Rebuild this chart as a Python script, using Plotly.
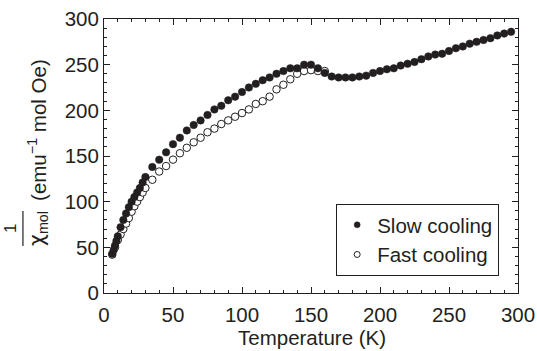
import plotly.graph_objects as go

# Inverse molar susceptibility vs temperature, two cooling protocols
slow_T = [6, 7, 8, 9, 10, 12, 14, 16, 18, 20, 22, 24, 26, 28, 30,
          35, 40, 45, 50, 55, 60, 65, 70, 75, 80, 85, 90, 95, 100,
          105, 110, 115, 120, 125, 130, 135, 140, 145, 150, 155, 160,
          165, 170, 175, 180, 185, 190, 195, 200, 205, 210, 215, 220,
          225, 230, 235, 240, 245, 250, 255, 260, 265, 270, 275, 280,
          285, 290, 295]
slow_inv_chi = [43, 47, 52, 57, 62, 72, 80, 87, 94, 100, 105, 110, 115, 121, 127,
                138, 146, 154, 163, 170, 178, 184, 189, 195, 201, 205, 211, 215, 220,
                225, 229, 233, 236, 240, 243, 246, 246, 250, 250, 246, 241,
                237, 236, 236, 236, 237, 238, 241, 243, 245, 246, 249, 251,
                253, 256, 259, 261, 262, 265, 268, 270, 273, 275, 277, 279,
                282, 284, 286]

fast_T = [6, 8, 10, 12, 14, 16, 18, 20, 22, 24, 26, 28, 30,
          35, 40, 45, 50, 55, 60, 65, 70, 75, 80, 85, 90, 95, 100,
          105, 110, 115, 120, 125, 130, 135, 140, 145, 150, 155, 160]
fast_inv_chi = [42, 50, 58, 64, 70, 76, 82, 89, 95, 100, 105, 110, 115,
                124, 133, 139, 146, 153, 159, 165, 170, 176, 180, 185, 189, 193, 197,
                201, 207, 210, 215, 223, 228, 234, 240, 243, 244, 243, 243]

x_ticks = [0, 50, 100, 150, 200, 250, 300]
y_ticks = [0, 50, 100, 150, 200, 250, 300]

INK = "#231f20"
FONT = "Liberation Sans, Arial, Helvetica, sans-serif"
FS = 20.5

fig = go.Figure()

fig.add_trace(go.Scatter(
    x=fast_T, y=fast_inv_chi, mode="markers", showlegend=False,
    marker=dict(symbol="circle", size=7.5, color="white",
                line=dict(color=INK, width=1)),
))
fig.add_trace(go.Scatter(
    x=slow_T, y=slow_inv_chi, mode="markers", showlegend=False,
    marker=dict(symbol="circle", size=7.5, color=INK,
                line=dict(color=INK, width=0.5)),
))

# legend entries with smaller symbols
fig.add_trace(go.Scatter(
    x=[None], y=[None], mode="markers", name="Slow cooling",
    marker=dict(symbol="circle", size=6, color=INK, line=dict(color=INK, width=0.5)),
))
fig.add_trace(go.Scatter(
    x=[None], y=[None], mode="markers", name="Fast cooling",
    marker=dict(symbol="circle", size=6, color="white", line=dict(color=INK, width=1)),
))

L, R, T, B = 104, 19.3, 19, 58
W, H = 537, 351
pw, ph = W - L - R, H - T - B


def px_x(px):
    return (px - L) / pw


def px_y(py):
    return (H - B - py) / ph


axis_common = dict(
    showgrid=False, zeroline=False, showline=True, linecolor=INK, linewidth=1,
    mirror="allticks", ticks="inside", ticklen=6, tickwidth=1, tickcolor=INK,
    tickfont=dict(size=FS, color=INK, family=FONT),
    minor=dict(ticks="inside", ticklen=3, tickwidth=1, tickcolor=INK, dtick=10),
)

fig.update_xaxes(range=[0, 300], tickvals=x_ticks, ticklabelstandoff=3, **axis_common)
fig.update_yaxes(range=[0, 300], tickvals=y_ticks, **axis_common)


def label(text, x, y, size=FS, angle=0):
    return dict(text=text, xref="paper", yref="paper", x=px_x(x), y=px_y(y),
                xanchor="center", yanchor="middle", showarrow=False,
                textangle=angle, font=dict(size=size, color=INK, family=FONT))


fig.update_layout(
    width=W, height=H,
    margin=dict(l=L, r=R, t=T, b=B, autoexpand=False),
    paper_bgcolor="white", plot_bgcolor="white",
    font=dict(family=FONT, color=INK, size=FS),
    legend=dict(
        x=px_x(336), y=px_y(204), xanchor="left", yanchor="top",
        bgcolor="white", bordercolor=INK, borderwidth=1,
        font=dict(size=FS, color=INK, family=FONT),
        itemwidth=30, tracegroupgap=0,
    ),
    annotations=[
        label("Temperature (K)", 312, 337),
        label("1", 10, 228, size=17, angle=-90),
        label('<span style="font-family:DejaVu Sans">χ</span><sub>mol</sub>',
              38, 228, angle=-90),
        label("(emu<sup>−1</sup> mol Oe)", 37, 130, angle=-90),
    ],
    shapes=[
        dict(type="line", xref="paper", yref="paper",
             x0=px_x(23), x1=px_x(23), y0=px_y(211), y1=px_y(246),
             line=dict(color=INK, width=1.2)),
    ],
)

fig.write_html("out.html")
